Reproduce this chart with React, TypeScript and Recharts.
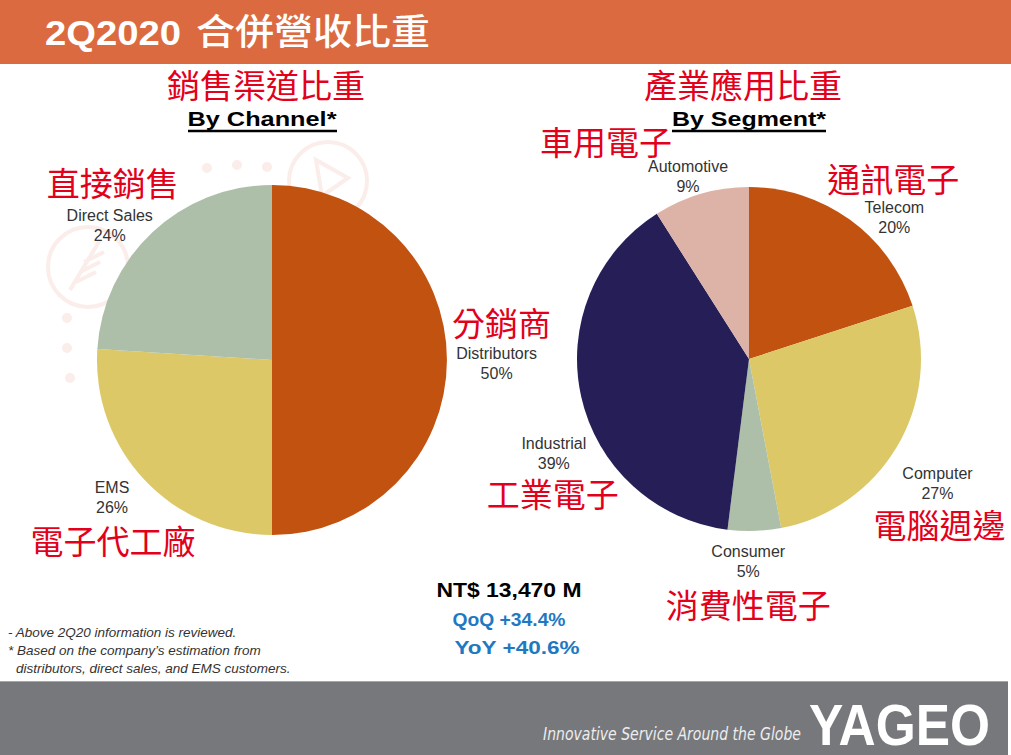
import { PieChart, Pie, Cell } from 'recharts';

// 2Q2020 revenue mix
const channelNames = ['Distributors', 'EMS', 'Direct Sales'];
const channelNamesZh = ['分銷商', '電子代工廠', '直接銷售'];
const channelShares = [50, 26, 24];

const segmentNames = ['Telecom', 'Computer', 'Consumer', 'Industrial', 'Automotive'];
const segmentNamesZh = ['通訊電子', '電腦週邊', '消費性電子', '工業電子', '車用電子'];
const segmentShares = [20, 27, 5, 39, 9];

const revenueText = 'NT$ 13,470 M';
const qoqText = 'QoQ +34.4%';
const yoyText = 'YoY +40.6%';

const channelColors = ['#C2520F', '#DCC866', '#ADBFA9'];
const segmentColors = ['#C2520F', '#DCC866', '#ADBFA9', '#261F57', '#DDB3A8'];

const channelData = channelNames.map((name, i) => ({ name, zh: channelNamesZh[i], share: channelShares[i] }));
const segmentData = segmentNames.map((name, i) => ({ name, zh: segmentNamesZh[i], share: segmentShares[i] }));

const RADIAN = Math.PI / 180;
const LATIN = "'Liberation Sans', Arial, sans-serif";
const CJK = "'Noto Sans CJK TC', 'Noto Sans CJK SC', sans-serif";
const RED = '#E3001B';
const WATERMARK = '#FAEDEA';

// hand-moved label offsets as on the slide: [dx, dy, zhDx, zhDy]
const labelNudge: Record<string, number[]> = {
  Distributors: [-2, 3, 5, -41],
  EMS: [-12, -1, 1, 42],
  'Direct Sales': [-7, 31, 3, -44],
  Telecom: [22, 28, -1, -39],
  Computer: [4, 15, 2, 41],
  Consumer: [-7, 4, 0, 42],
  Industrial: [19, 47, -1, 39],
  Automotive: [-3, 17, -82, -35],
};

const renderLabel = (props: any) => {
  const { cx, cy, midAngle, outerRadius } = props;
  const item = props.payload && props.payload.zh ? props.payload : props;
  const cos = Math.cos(-RADIAN * midAngle);
  const sin = Math.sin(-RADIAN * midAngle);
  const halfW = item.name.length * 3.8;
  const halfH = 20;
  const dist = outerRadius + 6 + halfW * Math.abs(cos) + halfH * Math.abs(sin);
  const [dx, dy, zdx, zdy] = labelNudge[item.name] || [0, 0, 0, sin <= 0.01 ? -40 : 41];
  const x = cx + dist * cos + dx;
  const y = cy + dist * sin + dy;
  return (
    <g>
      <text x={x} y={y - 10} textAnchor="middle" dominantBaseline="central" fill="#333" fontSize={16} fontFamily={LATIN}>
        {item.name}
      </text>
      <text x={x} y={y + 10} textAnchor="middle" dominantBaseline="central" fill="#333" fontSize={16} fontFamily={LATIN}>
        {`${item.share}%`}
      </text>
      <text x={x + zdx} y={y + zdy} textAnchor="middle" dominantBaseline="central" fill={RED} fontSize={33} fontFamily={CJK}>
        {item.zh}
      </text>
    </g>
  );
};

export default function App() {
  return (
    <div style={{ position: 'absolute', left: 0, top: 0, width: 1011, height: 755, background: '#fff', overflow: 'hidden' }}>
      <div style={{ position: 'absolute', left: 0, top: 0, width: 1011, height: 64, background: '#DC6A40' }} />
      <div style={{ position: 'absolute', left: 0, top: 681, width: 1008, height: 74, background: '#77787C', borderTop: '1px solid #A5A6A9' }} />

      {/* faint background icons */}
      <svg width={1011} height={755} style={{ position: 'absolute', left: 0, top: 0 }}>
        <g fill="none" stroke={WATERMARK} strokeWidth={4}>
          <circle cx={328} cy={181} r={39} />
          <circle cx={88} cy={267} r={40} />
          <path d="M316 160 L348 178 L322 196 Z" />
          <path d="M70 290 L100 240 M76 282 L96 272 M80 272 L100 262 M84 262 L104 252" />
        </g>
        <g fill={WATERMARK}>
          <circle cx={207} cy={168} r={5} />
          <circle cx={237} cy={165} r={5} />
          <circle cx={267} cy={167} r={5} />
          <circle cx={67} cy={318} r={5} />
          <circle cx={67} cy={348} r={5} />
          <circle cx={70} cy={378} r={5} />
        </g>
      </svg>

      <div style={{ position: 'absolute', left: 0, top: 0 }}>
        <PieChart width={1011} height={755} margin={{ top: 0, right: 0, bottom: 0, left: 0 }}>
          <Pie
            data={channelData}
            dataKey="share"
            nameKey="name"
            cx={272}
            cy={360}
            outerRadius={175}
            startAngle={90}
            endAngle={-270}
            stroke="none"
            labelLine={false}
            label={renderLabel}
            isAnimationActive={false}
          >
            {channelData.map((d, i) => <Cell key={d.name} fill={channelColors[i]} />)}
          </Pie>
          <Pie
            data={segmentData}
            dataKey="share"
            nameKey="name"
            cx={749}
            cy={359}
            outerRadius={172}
            startAngle={90}
            endAngle={-270}
            stroke="none"
            labelLine={false}
            label={renderLabel}
            isAnimationActive={false}
          >
            {segmentData.map((d, i) => <Cell key={d.name} fill={segmentColors[i]} />)}
          </Pie>
        </PieChart>
      </div>

      <svg width={1011} height={755} style={{ position: 'absolute', left: 0, top: 0, pointerEvents: 'none' }}>
        <text x={45} y={45} fill="#fff" fontSize={35} fontWeight="bold" fontFamily={LATIN} textLength={136} lengthAdjust="spacingAndGlyphs">2Q2020</text>
        <text x={196} y={45} fill="#fff" fontSize={36} fontWeight={500} fontFamily={CJK} textLength={234} lengthAdjust="spacingAndGlyphs">合併營收比重</text>

        <text x={266} y={98} textAnchor="middle" fill={RED} fontSize={33} fontFamily={CJK}>銷售渠道比重</text>
        <text x={262} y={126} textAnchor="middle" fill="#000" fontSize={21} fontWeight="bold" fontFamily={LATIN} textLength={149} lengthAdjust="spacingAndGlyphs">By Channel*</text>
        <line x1={188} x2={337} y1={131} y2={131} stroke="#000" strokeWidth={2.5} />

        <text x={743} y={98} textAnchor="middle" fill={RED} fontSize={33} fontFamily={CJK}>產業應用比重</text>
        <text x={749} y={126} textAnchor="middle" fill="#000" fontSize={21} fontWeight="bold" fontFamily={LATIN} textLength={154} lengthAdjust="spacingAndGlyphs">By Segment*</text>
        <line x1={672} x2={826} y1={131} y2={131} stroke="#000" strokeWidth={2.5} />

        <text x={509} y={597} textAnchor="middle" fill="#000" fontSize={21} fontWeight="bold" fontFamily={LATIN} textLength={145} lengthAdjust="spacingAndGlyphs">{revenueText}</text>
        <text x={509} y={626} textAnchor="middle" fill="#1F79C2" fontSize={19} fontWeight="bold" fontFamily={LATIN} textLength={113} lengthAdjust="spacingAndGlyphs">{qoqText}</text>
        <text x={517} y={654} textAnchor="middle" fill="#1F79C2" fontSize={19} fontWeight="bold" fontFamily={LATIN} textLength={125} lengthAdjust="spacingAndGlyphs">{yoyText}</text>

        <g fill="#333" fontSize={13.5} fontStyle="italic" fontFamily={LATIN}>
          <text x={8} y={637}>- Above 2Q20 information is reviewed.</text>
          <text x={8} y={655}>* Based on the company’s estimation from</text>
          <text x={16} y={673}>distributors, direct sales, and EMS customers.</text>
        </g>

        <text x={543} y={740} fill="#EDEDED" fontSize={18} fontStyle="italic" fontFamily="'Liberation Sans Narrow', 'DejaVu Sans Condensed', sans-serif" textLength={258} lengthAdjust="spacingAndGlyphs">Innovative Service Around the Globe</text>
        <text x={809} y={745} fill="#fff" fontSize={58} fontWeight="bold" fontFamily={LATIN} textLength={181} lengthAdjust="spacingAndGlyphs">YAGEO</text>
      </svg>
    </div>
  );
}
